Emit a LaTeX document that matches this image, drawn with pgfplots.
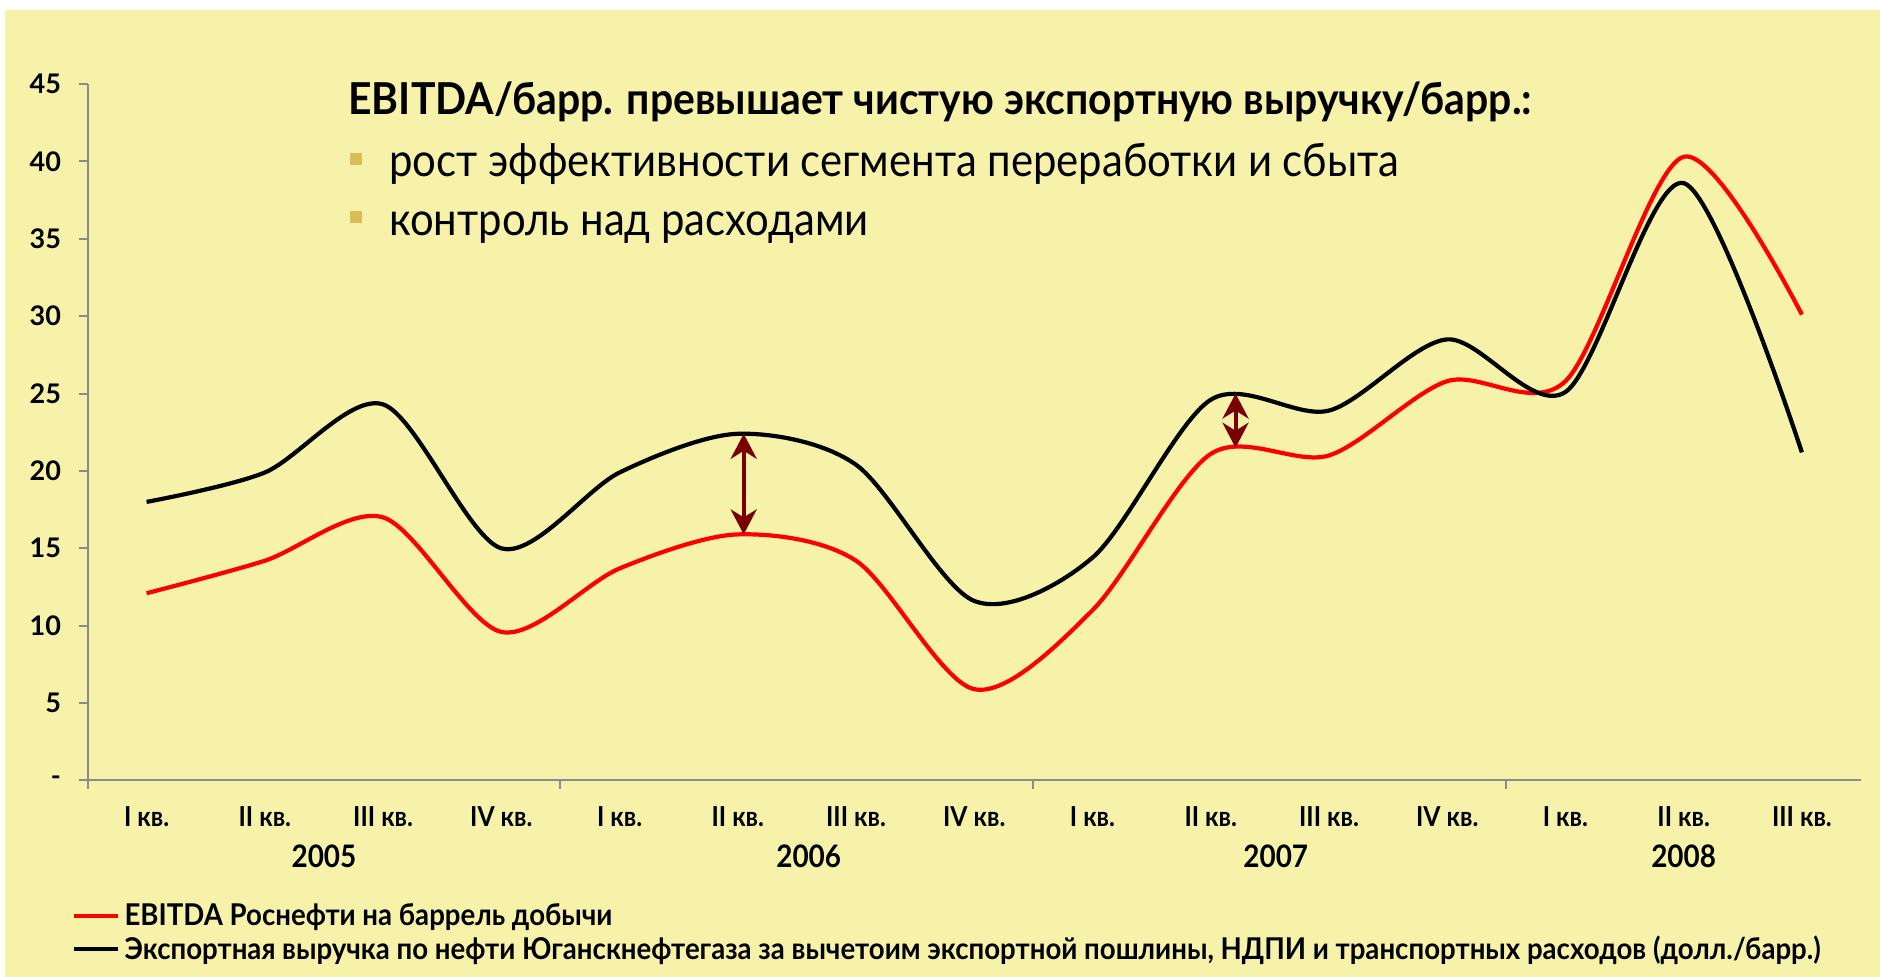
\documentclass[border=0pt]{standalone}
\usepackage{fontspec}
\setmainfont{Lato}
\newfontfamily\titlef[FakeStretch=0.93]{Lato}
\newfontfamily\bulf[FakeStretch=0.91]{Lato}
\newfontfamily\condf[FakeStretch=0.92]{Lato}
\newfontfamily\tickf[FakeStretch=0.9]{Lato}
\usepackage{pgfplots}
\pgfplotsset{compat=1.18}
\usetikzlibrary{arrows.meta}

\definecolor{bgy}{RGB}{247,242,170}
\definecolor{bul}{RGB}{217,190,85}
\definecolor{arr}{RGB}{122,0,0}
\definecolor{axgray}{RGB}{140,140,140}

% quarterly values, 2005 Q1 ... 2008 Q3
\pgfplotstableread{
x ebitda export
0  12.1 18.0
1  14.2 19.9
2  17.0 24.3
3  9.6  15.0
4  13.7 19.9
5  15.9 22.4
6  14.2 20.4
7  5.9  11.6
8  11.0 14.4
9  21.1 24.6
10 21.0 23.9
11 25.8 28.5
12 25.8 25.1
13 40.3 38.6
14 30.1 21.2
}\rosdata

\begin{document}
\begin{tikzpicture}
\fill[white] (0,0) rectangle (940bp,488.5bp);
\fill[bgy] (2.5bp,0) rectangle (940bp,483.5bp);

\begin{axis}[
  at={(43.75bp,98.25bp)}, anchor=south west,
  scale only axis,
  width=886.75bp, height=348.25bp,
  xmin=-0.5, xmax=14.5,
  ymin=0, ymax=45,
  axis x line=bottom, axis y line=left,
  axis line style={draw=axgray, line width=1bp, -},
  tick style={draw=axgray, line width=1bp},
  tick align=outside,
  major tick length=4.2bp,
  xtick={-0.5,3.5,7.5,11.5},
  xticklabels={},
  extra x ticks={0,...,14},
  extra x tick labels={I кв.,II кв.,III кв.,IV кв.,I кв.,II кв.,III кв.,IV кв.,I кв.,II кв.,III кв.,IV кв.,I кв.,II кв.,III кв.},
  extra x tick style={major tick length=0pt,
    ticklabel style={font=\tickf\bfseries\fontsize{13.75bp}{15bp}\selectfont, yshift=-9.5bp}},
  ytick={0,5,...,45},
  yticklabels={-,5,10,15,20,25,30,35,40,45},
  yticklabel style={font=\bfseries\fontsize{13.5bp}{15bp}\selectfont, xshift=-5.5bp},
  legend style={at={(0,0)}, anchor=north west, xshift=-7.75bp, yshift=-59.2bp,
    draw=none, fill=none, inner sep=0pt,
    font=\condf\bfseries\fontsize{15bp}{17bp}\selectfont,
    row sep=0bp},
  legend cell align=left,
  legend image code/.code={\draw[#1] (0bp,0bp) -- (22bp,0bp);},
  clip=false,
]
\addplot[red, line width=2.1bp, smooth] table[x=x, y=ebitda] {\rosdata};
\addlegendentry{EBITDA Роснефти на баррель добычи}
\addplot[black, line width=2.1bp, smooth] table[x=x, y=export] {\rosdata};
\addlegendentry{Экспортная выручка по нефти Юганскнефтегаза за вычетоим экспортной пошлины, НДПИ и транспортных расходов (долл./барр.)}

\draw[arr, line width=2bp, {Stealth[length=12.5bp,width=13bp,inset=4bp]}-{Stealth[length=12.5bp,width=13bp,inset=4bp]}]
  (axis cs:5.05,22.4) -- (axis cs:5.05,15.9);
\draw[arr, line width=2bp, {Stealth[length=12.5bp,width=13bp,inset=4bp]}-{Stealth[length=12.5bp,width=13bp,inset=4bp]}]
  (axis cs:9.21,25.0) -- (axis cs:9.21,21.5);

\node[font=\tickf\bfseries\fontsize{15.5bp}{17bp}\selectfont] at (axis cs:1.5,0) [yshift=-37.75bp] {2005};
\node[font=\tickf\bfseries\fontsize{15.5bp}{17bp}\selectfont] at (axis cs:5.6,0) [yshift=-37.75bp] {2006};
\node[font=\tickf\bfseries\fontsize{15.5bp}{17bp}\selectfont] at (axis cs:9.55,0) [yshift=-37.75bp] {2007};
\node[font=\tickf\bfseries\fontsize{15.5bp}{17bp}\selectfont] at (axis cs:13,0) [yshift=-37.75bp] {2008};
\end{axis}

\node[anchor=base west, inner sep=0pt, font=\titlef\bfseries\fontsize{22bp}{26bp}\selectfont]
  at (174bp,431bp) {EBITDA/барр. превышает чистую экспортную выручку/барр.:};
\fill[bul] (174.85bp,405.85bp) rectangle +(6.3bp,6.3bp);
\fill[bul] (174.85bp,376.85bp) rectangle +(6.3bp,6.3bp);
\node[anchor=base west, inner sep=0pt, font=\bulf\fontsize{23bp}{26bp}\selectfont]
  at (194.5bp,400bp) {рост эффективности сегмента переработки и сбыта};
\node[anchor=base west, inner sep=0pt, font=\bulf\fontsize{23bp}{26bp}\selectfont]
  at (194.5bp,370.5bp) {контроль над расходами};

\pgfresetboundingbox
\path[use as bounding box] (0,0) rectangle (940bp,488.5bp);
\end{tikzpicture}
\end{document}
